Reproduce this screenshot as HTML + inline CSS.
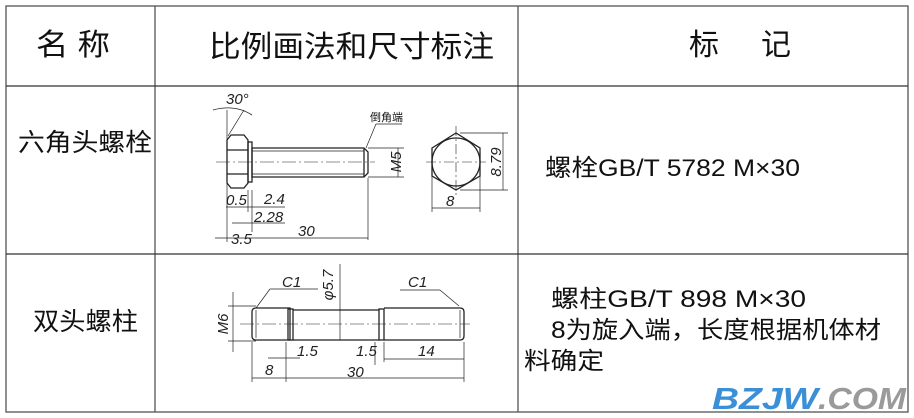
<!DOCTYPE html>
<html><head><meta charset="utf-8"><style>
body{margin:0;background:#fff;width:914px;height:418px;overflow:hidden}
svg{position:absolute;left:0;top:0}
.t{font-family:"Liberation Sans","Noto Sans CJK SC",sans-serif;fill:#111}
.d{font-family:"Liberation Sans",sans-serif;font-style:italic;fill:#222;font-size:15px}
</style></head><body>
<svg width="914" height="418" viewBox="0 0 914 418">
<g stroke="#555" stroke-width="1.3" fill="none">
<rect x="6" y="6" width="902" height="406"/>
<line x1="155" y1="6" x2="155" y2="412"/>
<line x1="518" y1="6" x2="518" y2="412"/>
<line x1="6" y1="86" x2="908" y2="86" stroke="#333"/>
<line x1="6" y1="254" x2="908" y2="254" stroke="#333"/>
</g>
<text class="t" x="36" y="55" font-size="30" textLength="74" lengthAdjust="spacingAndGlyphs">名 称</text>
<text class="t" x="209" y="57" font-size="30" textLength="285" lengthAdjust="spacingAndGlyphs">比例画法和尺寸标注</text>
<text class="t" x="689" y="55" font-size="30" textLength="102" lengthAdjust="spacing">标&#160;&#160;&#160;&#160;记</text>
<text class="t" x="18" y="151" font-size="25" textLength="134" lengthAdjust="spacingAndGlyphs">六角头螺栓</text>
<text class="t" x="33" y="330" font-size="25" textLength="105" lengthAdjust="spacingAndGlyphs">双头螺柱</text>
<text class="t" x="545" y="176" font-size="24" textLength="255" lengthAdjust="spacingAndGlyphs">螺栓GB/T 5782  M×30</text>
<text class="t" x="551" y="307" font-size="24" textLength="255" lengthAdjust="spacingAndGlyphs">螺柱GB/T 898  M×30</text>
<text class="t" x="551" y="338" font-size="24" textLength="330" lengthAdjust="spacingAndGlyphs">8为旋入端，长度根据机体材</text>
<text class="t" x="524" y="369" font-size="24" textLength="80" lengthAdjust="spacingAndGlyphs">料确定</text>
<text x="712" y="409" font-family="Liberation Sans,sans-serif" font-weight="bold" font-style="italic" font-size="31" fill="#3a8fd6" textLength="106" lengthAdjust="spacingAndGlyphs">BZJW</text><text x="818" y="409" font-family="Liberation Sans,sans-serif" font-weight="bold" font-style="italic" font-size="31" fill="#9a9a9a" textLength="88" lengthAdjust="spacingAndGlyphs">.COM</text>
<!-- bolt -->
<g stroke="#222" stroke-width="1.3" fill="none">
<path d="M227 140 L231 135 L244 135 L248 140 L248 183 L244 188 L231 188 L227 183 Z"/>
<line x1="227" y1="150" x2="248" y2="150"/><line x1="227" y1="174" x2="248" y2="174"/>
<rect x="248" y="142" width="4" height="40"/>
<path d="M252 148 L364 148 L368 152 L368 173 L364 177 L252 177 Z"/>
<line x1="252" y1="151" x2="364" y2="151" stroke-width="0.7"/><line x1="252" y1="174" x2="364" y2="174" stroke-width="0.7"/>
<line x1="364" y1="148" x2="364" y2="177"/>
<line x1="216" y1="162" x2="375" y2="162" stroke-width="0.6" stroke-dasharray="14 3 2 3"/>
<line x1="227" y1="110" x2="227" y2="242" stroke-width="0.7"/>
<line x1="248" y1="190" x2="248" y2="212" stroke-width="0.7"/>
<line x1="252" y1="190" x2="252" y2="232" stroke-width="0.7"/>
<line x1="368" y1="178" x2="368" y2="240" stroke-width="0.7"/>
<path d="M213 110 Q235 104 252 115" stroke-width="0.8"/>
<line x1="228" y1="136" x2="244" y2="110" stroke-width="0.7"/>
<line x1="366" y1="148" x2="376" y2="124" stroke-width="0.7"/><line x1="376" y1="124" x2="402" y2="124" stroke-width="0.7"/>
<line x1="368" y1="148" x2="404" y2="148" stroke-width="0.7"/><line x1="368" y1="177" x2="404" y2="177" stroke-width="0.7"/>
<line x1="398" y1="148" x2="398" y2="177" stroke-width="0.7"/>
<line x1="226" y1="207" x2="285" y2="207" stroke-width="0.7"/>
<line x1="232" y1="223" x2="285" y2="223" stroke-width="0.7"/>
<line x1="215" y1="238" x2="368" y2="238" stroke-width="0.7"/>
<polygon points="432,148 456,133 480,148 480,176 456,190 432,176"/>
<circle cx="456" cy="162" r="24"/>
<line x1="456" y1="126" x2="456" y2="198" stroke-width="0.6" stroke-dasharray="10 3 2 3"/>
<line x1="426" y1="162" x2="486" y2="162" stroke-width="0.6" stroke-dasharray="10 3 2 3"/>
<line x1="432" y1="176" x2="432" y2="212" stroke-width="0.7"/><line x1="480" y1="176" x2="480" y2="212" stroke-width="0.7"/>
<line x1="432" y1="208" x2="480" y2="208" stroke-width="0.7"/>
<line x1="460" y1="133" x2="508" y2="133" stroke-width="0.7"/><line x1="460" y1="190" x2="508" y2="190" stroke-width="0.7"/>
<line x1="503" y1="133" x2="503" y2="190" stroke-width="0.7"/>
</g>
<text class="d" x="226" y="104" font-size="17">30°</text>
<text class="t" x="370" y="121" font-size="11">倒角端</text>
<text class="d" x="393" y="170" transform="rotate(-90 393 162)" text-anchor="middle">M5</text>
<text class="d" x="501" y="162" transform="rotate(-90 501 162)" text-anchor="middle">8.79</text>
<text class="d" x="446" y="206">8</text>
<text class="d" x="226" y="205">0.5</text>
<text class="d" x="264" y="204">2.4</text>
<text class="d" x="254" y="222">2.28</text>
<text class="d" x="231" y="244">3.5</text>
<text class="d" x="298" y="236" font-size="17">30</text>
<!-- stud -->
<g stroke="#222" stroke-width="1.3" fill="none">
<path d="M256 308 L290 308 L290 340 L256 340 Q252 340 252 336 L252 312 Q252 308 256 308 Z"/>
<line x1="256" y1="310" x2="256" y2="338" stroke-width="0.7"/>
<rect x="288" y="309" width="5" height="31"/>
<line x1="293" y1="310" x2="379" y2="310"/><line x1="293" y1="340" x2="379" y2="340"/>
<rect x="379" y="309" width="5" height="31"/>
<path d="M384 308 L460 308 Q464 308 464 312 L464 336 Q464 340 460 340 L384 340"/>
<line x1="460" y1="310" x2="460" y2="338" stroke-width="0.7"/>
<line x1="240" y1="324" x2="470" y2="324" stroke-width="0.6" stroke-dasharray="14 3 2 3"/>
<line x1="228" y1="306" x2="256" y2="306" stroke-width="0.7"/><line x1="228" y1="341" x2="256" y2="341" stroke-width="0.7"/>
<line x1="233" y1="292" x2="233" y2="352" stroke-width="0.7"/>
<line x1="340" y1="264" x2="340" y2="340" stroke-width="0.7"/>
<line x1="256" y1="308" x2="270" y2="289" stroke-width="0.7"/><line x1="270" y1="289" x2="318" y2="289" stroke-width="0.7"/>
<line x1="459" y1="306" x2="440" y2="290" stroke-width="0.7"/><line x1="440" y1="290" x2="400" y2="290" stroke-width="0.7"/>
<line x1="252" y1="342" x2="252" y2="382" stroke-width="0.7"/>
<line x1="286" y1="342" x2="286" y2="382" stroke-width="0.7"/>
<line x1="375" y1="342" x2="375" y2="365" stroke-width="0.7"/>
<line x1="384" y1="342" x2="384" y2="362" stroke-width="0.7"/>
<line x1="464" y1="342" x2="464" y2="382" stroke-width="0.7"/>
<line x1="268" y1="358" x2="300" y2="358" stroke-width="0.7"/>
<line x1="384" y1="359" x2="464" y2="359" stroke-width="0.7"/>
<line x1="252" y1="378" x2="464" y2="378" stroke-width="0.7"/>
</g>
<text class="d" x="282" y="287" font-size="17">C1</text>
<text class="d" x="408" y="287" font-size="17">C1</text>
<text class="d" x="333" y="285" transform="rotate(-90 333 285)" text-anchor="middle">φ5.7</text>
<text class="d" x="228" y="324" transform="rotate(-90 228 324)" text-anchor="middle">M6</text>
<text class="d" x="297" y="356">1.5</text>
<text class="d" x="356" y="356">1.5</text>
<text class="d" x="418" y="356" font-size="17">14</text>
<text class="d" x="265" y="375" font-size="17">8</text>
<text class="d" x="347" y="377" font-size="17">30</text>
</svg>
</body></html>
